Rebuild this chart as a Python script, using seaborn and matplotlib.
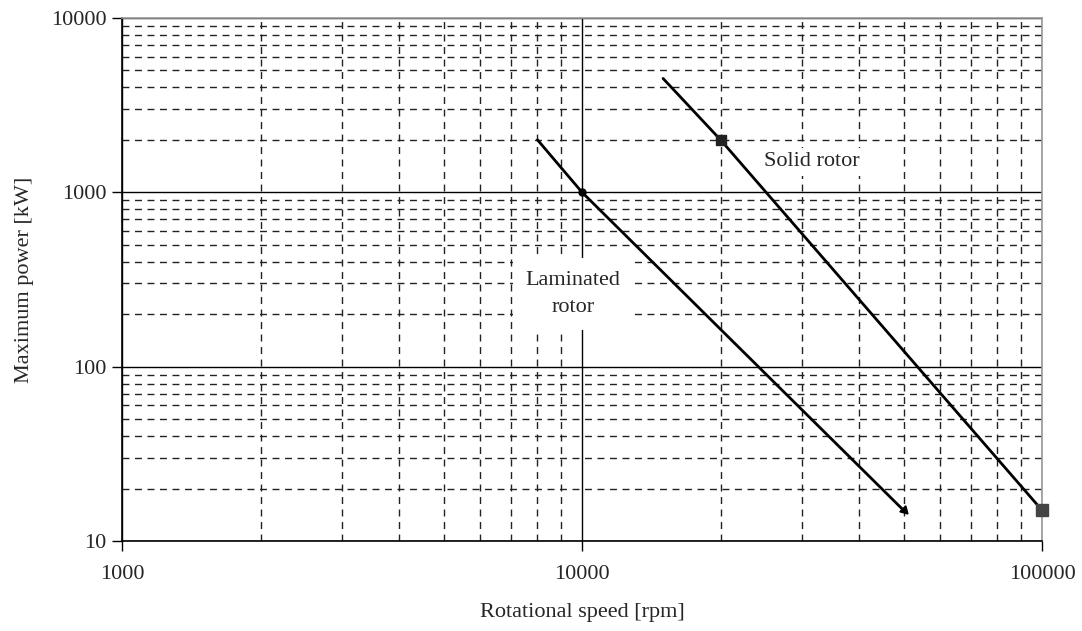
import matplotlib
matplotlib.use("Agg")
import matplotlib.pyplot as plt
import matplotlib.ticker as mticker
import numpy as np
import pandas as pd
import seaborn as sns

# Rotor limits: rotational speed [rpm] vs. maximum power [kW]
laminated_speed = [8000, 10000, 50000]
laminated_power = [2000, 1000, 15]
solid_speed = [15000, 20000, 100000]
solid_power = [4500, 2000, 15]

x_ticks = [1000, 10000, 100000]
y_ticks = [10, 100, 1000, 10000]

sns.set_style("white")
plt.rcParams["font.family"] = ["Liberation Serif", "DejaVu Serif"]
plt.rcParams["font.size"] = 16

fig = plt.figure(figsize=(10.82, 6.31), dpi=100)
ax = fig.add_axes([0.1128, 0.1426, 0.8503, 0.8289])

ax.set_xscale("log")
ax.set_yscale("log")
ax.set_xlim(1000, 100000)
ax.set_ylim(10, 10000)

# Grid: solid decades, dashed sub-decades
ax.xaxis.set_major_locator(mticker.FixedLocator(x_ticks))
ax.yaxis.set_major_locator(mticker.FixedLocator(y_ticks))
ax.xaxis.set_major_formatter(mticker.FixedFormatter([str(v) for v in x_ticks]))
ax.yaxis.set_major_formatter(mticker.FixedFormatter([str(v) for v in y_ticks]))
ax.xaxis.set_minor_locator(mticker.LogLocator(base=10, subs=np.arange(2, 10)))
ax.yaxis.set_minor_locator(mticker.LogLocator(base=10, subs=np.arange(2, 10)))
ax.xaxis.set_minor_formatter(mticker.NullFormatter())
ax.yaxis.set_minor_formatter(mticker.NullFormatter())
ax.grid(which="major", color="black", linewidth=1.0, linestyle="-")
ax.grid(which="minor", color="#222222", linewidth=1.0, linestyle=(0, (5, 4)))
ax.set_axisbelow(True)

ax.tick_params(which="major", direction="out", length=7, width=1.0,
               color="black", labelsize=16, bottom=True, left=True,
               top=False, right=False)
ax.tick_params(which="minor", length=0, bottom=False, left=False)
ax.tick_params(axis="x", pad=10)
ax.tick_params(axis="y", pad=4)

for side in ("left", "bottom"):
    ax.spines[side].set_color("black")
    ax.spines[side].set_linewidth(1.2)
for side in ("top", "right"):
    ax.spines[side].set_color("#9a9a9a")
    ax.spines[side].set_linewidth(1.2)

lam = pd.DataFrame({"speed": laminated_speed, "power": laminated_power})
sol = pd.DataFrame({"speed": solid_speed, "power": solid_power})

sns.lineplot(data=lam, x="speed", y="power", ax=ax, color="black",
             linewidth=2.0, estimator=None, sort=False, zorder=4)
sns.lineplot(data=sol, x="speed", y="power", ax=ax, color="black",
             linewidth=2.0, estimator=None, sort=False, zorder=4)

# Markers on the curves
ax.plot(laminated_speed[1], laminated_power[1], "o", color="black",
        markersize=5, zorder=5)
ax.plot(laminated_speed[2], laminated_power[2], marker=(3, 0, 225),
        color="black", markersize=7, zorder=5, linestyle="none")
ax.plot(solid_speed[1], solid_power[1], "s", color="#222222",
        markersize=7, zorder=5)
ax.plot(solid_speed[2], solid_power[2], "s", color="#444444",
        markersize=8, zorder=5, clip_on=False)

ax.text(9560, 261, "Laminated\nrotor", ha="center", va="center",
        fontsize=16, linespacing=1.6, zorder=6,
        bbox=dict(facecolor="white", edgecolor="none", pad=9))
ax.text(31600, 1493, "Solid rotor", ha="center", va="center",
        fontsize=16, zorder=6,
        bbox=dict(facecolor="white", edgecolor="none", pad=3))

ax.set_xlabel("Rotational speed [rpm]", fontsize=16, labelpad=14)
ax.set_ylabel("Maximum power [kW]", fontsize=16, labelpad=12)

fig.savefig("out.png", dpi=100)
